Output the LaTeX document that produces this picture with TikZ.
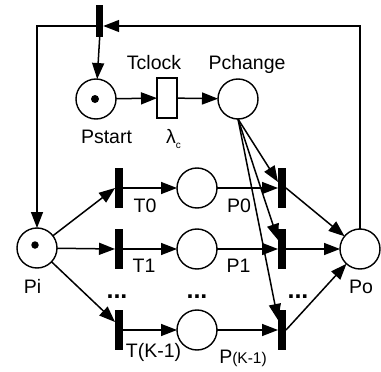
\documentclass[tikz,border=0pt]{standalone}
\usepackage{fontspec}
\setmainfont{Liberation Sans}
\usetikzlibrary{arrows.meta}
\begin{document}
\begin{tikzpicture}[x=1pt,y=-1pt,
  line width=1.5pt,
  every node/.style={inner sep=0pt,outer sep=0pt},
  place/.style={draw,circle,minimum size=40pt,line width=1.4pt},
  bar/.style={fill=black,minimum width=8pt,minimum height=40pt},
  timed/.style={draw,rectangle,minimum width=20pt,minimum height=40pt,line width=1.4pt},
  lbl/.style={anchor=base,font=\fontsize{19.5}{22}\selectfont},
  dots/.style={anchor=base,font=\fontsize{25}{27}\selectfont\bfseries},
  arc/.style={-{Triangle[length=16pt,width=12pt]}},
  token/.style={fill=black,circle,minimum size=8pt}
]
\useasboundingbox (0,0) rectangle (381,372);

% nodes
\node[bar,minimum width=7pt,minimum height=32pt] (tb) at (99.7,21) {};
\node[place] (Pstart) at (96,99) {};
\node[token] (tok1) at (95,99) {};
\node[timed] (Tclock) at (167,98) {};
\node[place] (Pchange) at (238,99) {};

\node[place] (Pi) at (37,248) {};
\node[token,minimum size=7.5pt] (tok2) at (35,245) {};
\node[place] (Po) at (360,249) {};

\node[bar] (T0) at (119,188) {};
\node[bar] (T1) at (119,249) {};
\node[bar] (TK) at (119,330) {};
\node[place] (P0) at (197,188) {};
\node[place] (P1) at (197,249) {};
\node[place] (PK) at (197,330) {};
\node[bar] (R0) at (282,188) {};
\node[bar] (R1) at (282,249) {};
\node[bar] (RK) at (282,330) {};

% labels
\node[lbl] (lTclock) at (154,69) {Tclock};
\node[lbl] (lPchange) at (247,69) {Pchange};
\node[lbl] (lPstart) at (106.5,143) {Pstart};
\node[lbl] (llambda) at (173.5,143) {λ\raisebox{-5pt}{\fontsize{10}{11}\selectfont c}};
\node[lbl] (lT0) at (145,212) {T0};
\node[lbl] (lP0) at (239,212) {P0};
\node[lbl] (lT1) at (144,272) {T1};
\node[lbl] (lP1) at (238.5,272) {P1};
\node[lbl] (lPi) at (32.5,293) {Pi};
\node[lbl] (lPo) at (361,293) {Po};
\node[lbl] (lTK) at (153.5,357) {T(K-1)};
\node[lbl] (lPK) at (243,363) {P{\fontsize{15.5}{17}\selectfont(K-1)}};
\node[dots] (d1) at (117,298) {...};
\node[dots] (d2) at (197,298) {...};
\node[dots] (d3) at (298,298) {...};

% connectors
\draw[arc] (Po.north) |- ([yshift=-5pt]tb.east);
\draw[arc] ([yshift=-5pt]tb.west) -| (Pi.north);
\draw[arc] (tb.south) -- (Pstart);
\draw[arc] (Pstart) -- (Tclock);
\draw[arc] (Tclock) -- (Pchange);

\draw[arc] (Pi) -- (T0.west);
\draw[arc] (Pi) -- (T1.west);
\draw[arc] (Pi) -- ([yshift=8pt]TK.west);

\draw[arc] (T0.east) -- (P0);
\draw[arc] (T1.east) -- (P1);
\draw[arc] (TK.east) -- (PK);

\draw[arc] (P0) -- (R0.west);
\draw[arc] (P1) -- (R1.west);
\draw[arc] (PK) -- (RK.west);

\draw[arc] (Pchange.south) -- ([yshift=6pt]R0.west);
\draw[arc] (Pchange.south) -- ([yshift=9pt]R1.west);
\draw[arc] (Pchange.south) -- ([yshift=10pt]RK.west);

\draw[arc] (R0.east) -- (Po);
\draw[arc] (R1.east) -- (Po);
\draw[arc] (RK.east) -- (Po);
\end{tikzpicture}
\end{document}
